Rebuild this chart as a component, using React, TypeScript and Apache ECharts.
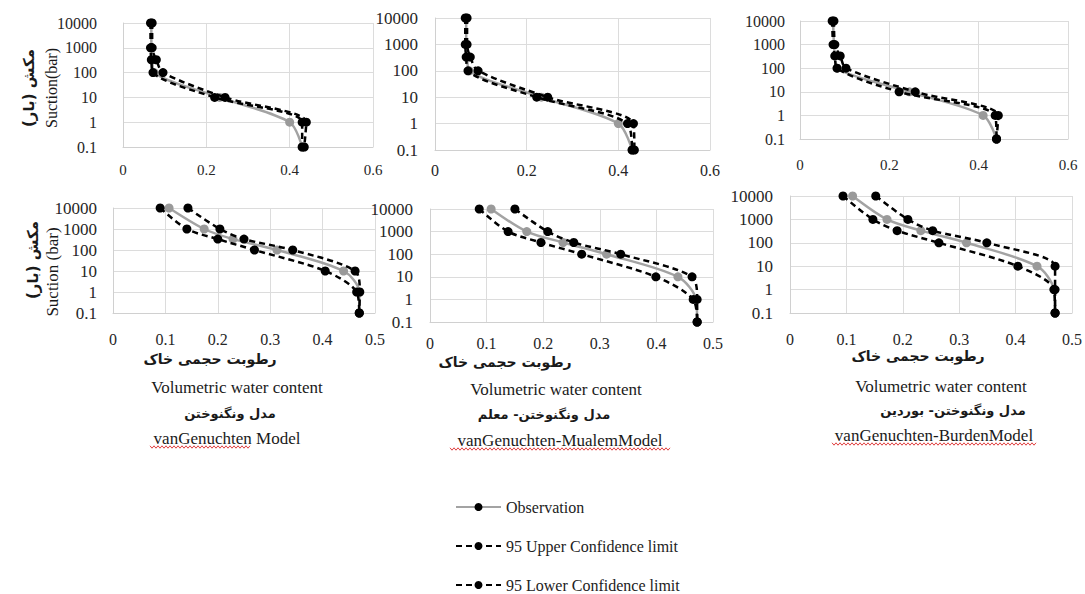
import React, { useEffect, useRef } from "react";
import * as echarts from "echarts";

// Suction levels (bar) shared by all panels
const suction = [10000, 1000, 330, 100, 10, 1, 0.1];

// Top row
const topLeftObs = [0.068, 0.068, 0.07, 0.075, 0.232, 0.40, 0.43];
const topLeftUpper = [0.07, 0.07, 0.08, 0.096, 0.245, 0.44, 0.435];
const topLeftLower = [0.066, 0.066, 0.068, 0.072, 0.22, 0.43, 0.43];

const topMidObs = [0.068, 0.068, 0.07, 0.075, 0.232, 0.40, 0.43];
const topMidUpper = [0.07, 0.07, 0.077, 0.094, 0.246, 0.433, 0.435];
const topMidLower = [0.066, 0.066, 0.068, 0.072, 0.222, 0.42, 0.43];

const topRightObs = [0.074, 0.076, 0.078, 0.083, 0.245, 0.41, 0.44];
const topRightUpper = [0.076, 0.078, 0.09, 0.103, 0.258, 0.444, 0.44];
const topRightLower = [0.072, 0.074, 0.078, 0.083, 0.222, 0.437, 0.44];

// Bottom row
const botLeftObs = [0.107, 0.174, 0.229, 0.313, 0.44, 0.47, 0.47];
const botLeftUpper = [0.143, 0.204, 0.25, 0.343, 0.462, 0.471, 0.47];
const botLeftLower = [0.09, 0.141, 0.2, 0.27, 0.405, 0.465, 0.47];

const botMidObs = [0.108, 0.171, 0.235, 0.312, 0.438, 0.47, 0.472];
const botMidUpper = [0.15, 0.208, 0.254, 0.337, 0.463, 0.472, 0.472];
const botMidLower = [0.087, 0.138, 0.196, 0.268, 0.399, 0.465, 0.472];

const botRightObs = [0.111, 0.172, 0.232, 0.313, 0.438, 0.468, 0.47];
const botRightUpper = [0.152, 0.209, 0.253, 0.349, 0.47, 0.47, 0.47];
const botRightLower = [0.094, 0.147, 0.19, 0.264, 0.404, 0.468, 0.47];

const seriesNames = ["Observation", "95 Upper Confidence limit", "95 Lower Confidence limit"];

const topXMax = 0.6;
const topXInterval = 0.2;
const botXMax = 0.5;
const botXInterval = 0.1;

const captionSoil = "رطوبت حجمی خاک";
const captionEn = "Volumetric water content";
const modelFa = ["مدل ونگنوختن", "مدل ونگنوختن- معلم", "مدل ونگنوختن- بوردین"];
const modelEn = ["vanGenuchten Model", "vanGenuchten-MualemModel", "vanGenuchten-BurdenModel"];

const SERIF = "Liberation Serif";
const ARABIC = "DejaVu Sans";

const panels = [
  { left: 123, top: 23, width: 250, height: 124, xMax: topXMax, xInt: topXInterval, xm: 15, ym: 26, fs: 15, data: [topLeftObs, topLeftUpper, topLeftLower] },
  { left: 435, top: 18, width: 275, height: 132, xMax: topXMax, xInt: topXInterval, xm: 12, ym: 17, fs: 16, data: [topMidObs, topMidUpper, topMidLower] },
  { left: 800, top: 21, width: 268, height: 118, xMax: topXMax, xInt: topXInterval, xm: 18, ym: 15, fs: 15, data: [topRightObs, topRightUpper, topRightLower] },
  { left: 113, top: 208, width: 262, height: 105, xMax: botXMax, xInt: botXInterval, xm: 18, ym: 16, fs: 16, data: [botLeftObs, botLeftUpper, botLeftLower] },
  { left: 430, top: 209, width: 283, height: 113, xMax: botXMax, xInt: botXInterval, xm: 13, ym: 17, fs: 16, data: [botMidObs, botMidUpper, botMidLower] },
  { left: 790, top: 196, width: 282, height: 117, xMax: botXMax, xInt: botXInterval, xm: 18, ym: 17, fs: 16, data: [botRightObs, botRightUpper, botRightLower] },
];

function squiggle(x0: number, x1: number, y: number) {
  const pts: number[][] = [];
  let i = 0;
  for (let x = x0; x <= x1; x += 2, i++) pts.push([x, y + (i % 2 ? 1.2 : -1.2)]);
  return { type: "polyline", shape: { points: pts }, style: { stroke: "#e04040", lineWidth: 1, fill: null }, silent: true };
}

function txt(text: string, x: number, y: number, size: number, opts: any = {}) {
  return {
    type: "text",
    x,
    y,
    rotation: opts.rotation || 0,
    style: {
      text,
      fill: "#1a1a1a",
      font: `${opts.bold ? "bold " : ""}${size}px "${opts.family || SERIF}"`,
      textAlign: "center",
      textVerticalAlign: "middle",
    },
    silent: true,
  };
}

export default function App() {
  const ref = useRef<HTMLDivElement>(null);
  useEffect(() => {
    if (!ref.current) return;
    const chart = echarts.init(ref.current, undefined, { renderer: "svg" });
    const grid = panels.map((p) => ({ left: p.left, top: p.top, width: p.width, height: p.height, containLabel: false }));
    const xAxis = panels.map((p, i) => ({
      type: "value",
      gridIndex: i,
      min: 0,
      max: p.xMax,
      interval: p.xInt,
      axisLine: { show: true, onZero: false, lineStyle: { color: "#d0d0d0" } },
      axisTick: { show: false },
      splitLine: { show: true, lineStyle: { color: "#dcdcdc", width: 1 } },
      axisLabel: {
        margin: p.xm,
        fontFamily: SERIF,
        fontSize: p.fs,
        color: "#262626",
        formatter: (v: number) => String(Number(v.toFixed(1))),
      },
    }));
    const yAxis = panels.map((p, i) => ({
      type: "log",
      logBase: 10,
      gridIndex: i,
      min: 0.1,
      max: 10000,
      splitNumber: 5,
      axisLine: { show: true, onZero: false, lineStyle: { color: "#d0d0d0" } },
      axisTick: { show: false },
      splitLine: { show: true, lineStyle: { color: "#dcdcdc", width: 1 } },
      axisLabel: {
        margin: p.ym,
        fontFamily: SERIF,
        fontSize: p.fs + 1,
        color: "#262626",
        formatter: (v: number) => String(Number(v.toPrecision(4))),
      },
    }));
    const series: any[] = [];
    panels.forEach((p, i) => {
      p.data.forEach((vals, k) => {
        const obs = k === 0;
        series.push({
          type: "line",
          name: seriesNames[k],
          xAxisIndex: i,
          yAxisIndex: i,
          data: vals.map((x, j) => [x, suction[j]]),
          smooth: 0.3,
          symbol: "circle",
          symbolSize: 9,
          z: obs ? 2 : 3,
          lineStyle: obs
            ? { color: "#a3a3a3", width: 2.5 }
            : { color: "#000", width: 2.5, type: [6, 4] },
          itemStyle: { color: obs ? "#9a9a9a" : "#000" },
        });
      });
    });

    const graphics: any[] = [
      txt("مکش (بار)", 29, 88, 15, { rotation: Math.PI / 2, bold: true, family: ARABIC }),
      txt("Suction(bar)", 51, 88, 16, { rotation: Math.PI / 2 }),
      txt("مکش (بار)", 33, 260, 15, { rotation: Math.PI / 2, bold: true, family: ARABIC }),
      txt("Suction (bar)", 52, 272, 17, { rotation: Math.PI / 2, bold: false }),
    ];
    const cap = [
      { cx: 210, fa: 359, en: 387, mf: 413, me: 438 },
      { cx: 505, fa: 362, en: 389, mf: 414, me: 440 },
      { cx: 918, fa: 356, en: 386, mf: 410, me: 435 },
    ];
    const enCx = [237, 556, 941];
    const mCx = [230, 544, 953];
    const meCx = [227, 560, 934];
    cap.forEach((c, i) => {
      graphics.push(txt(captionSoil, c.cx, c.fa, 14, { bold: true, family: ARABIC }));
      graphics.push(txt(captionEn, enCx[i], c.en, 17));
      graphics.push(txt(modelFa[i], mCx[i], c.mf, 13, { bold: true, family: ARABIC }));
      graphics.push(txt(modelEn[i], meCx[i], c.me, 17));
    });
    graphics.push(squiggle(150, 250, 447));
    graphics.push(squiggle(450, 670, 449));
    graphics.push(squiggle(832, 1036, 444));

    chart.setOption({
      animation: false,
      backgroundColor: "#fff",
      grid,
      xAxis,
      yAxis,
      series,
      legend: {
        orient: "vertical",
        left: 450,
        top: 494,
        itemWidth: 45,
        itemHeight: 10,
        itemGap: 23,
        textStyle: { fontFamily: SERIF, fontSize: 16, color: "#222" },
        data: [
          { name: seriesNames[0], itemStyle: { color: "#000" } },
          { name: seriesNames[1] },
          { name: seriesNames[2] },
        ],
      },
      graphic: graphics,
    });
    return () => chart.dispose();
  }, []);
  return <div ref={ref} style={{ position: "fixed", left: 0, top: 0, width: 1085, height: 660 }} />;
}
